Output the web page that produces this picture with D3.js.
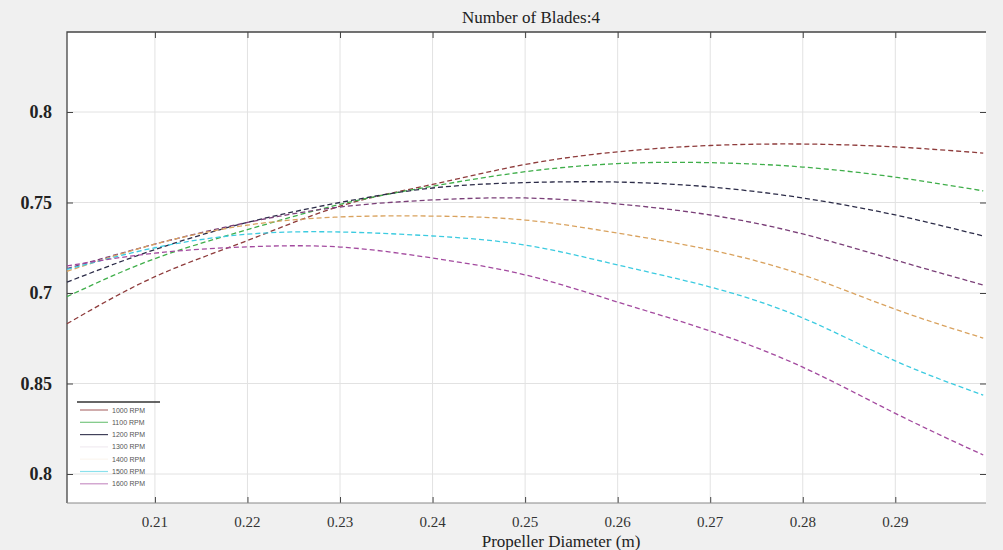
<!DOCTYPE html>
<html>
<head>
<meta charset="utf-8">
<script src="https://cdn.jsdelivr.net/npm/d3@7"></script>
<style>
  html, body { margin: 0; padding: 0; background: #f0f0f0; }
  svg { display: block; }
  .grid line { stroke: #e2e2e2; stroke-width: 1; }
  .ylab { font-family: "Liberation Serif", "DejaVu Serif", serif; font-weight: bold; font-size: 18px; fill: #222; }
  .xlab { font-family: "Liberation Serif", "DejaVu Serif", serif; font-size: 15px; fill: #333; }
  .legend text { font-family: "Liberation Sans", Arial, sans-serif; font-size: 7px; fill: #555; }
</style>
</head>
<body>
<svg id="chart" width="1003" height="550"></svg>
<script>
"use strict";

// propeller diameter (m) sample positions
const diameters = [0.2005, 0.21, 0.22, 0.23, 0.24, 0.25, 0.26, 0.27, 0.28, 0.29, 0.2995];

const rpm1000 = [0.683, 0.709, 0.729, 0.748, 0.760, 0.771, 0.778, 0.7815, 0.7823, 0.7807, 0.7773];
const rpm1100 = [0.698, 0.719, 0.735, 0.749, 0.759, 0.767, 0.7715, 0.772, 0.7696, 0.764, 0.7564];
const rpm1200 = [0.706, 0.724, 0.739, 0.750, 0.758, 0.761, 0.7613, 0.7586, 0.7525, 0.7431, 0.7315];
const rpm1300 = [0.7135, 0.727, 0.739, 0.7475, 0.7514, 0.7525, 0.7492, 0.7431, 0.7326, 0.7182, 0.7044];
const rpm1400 = [0.712, 0.727, 0.7375, 0.742, 0.7425, 0.7403, 0.7331, 0.7238, 0.710, 0.691, 0.6751];
const rpm1500 = [0.713, 0.725, 0.7325, 0.7337, 0.7315, 0.7265, 0.7155, 0.7033, 0.6862, 0.6625, 0.6436];
const rpm1600 = [0.715, 0.722, 0.7255, 0.7254, 0.7193, 0.710, 0.695, 0.679, 0.659, 0.6335, 0.6105];

const seriesNames = ["1000 RPM", "1100 RPM", "1200 RPM", "1300 RPM", "1400 RPM", "1500 RPM", "1600 RPM"];
const seriesValues = [rpm1000, rpm1100, rpm1200, rpm1300, rpm1400, rpm1500, rpm1600];
const seriesColors = ["#8e3b3b", "#3fae4a", "#2c2c48", "#7a3f78", "#d9a25e", "#3ccbe0", "#a34a9f"];
const legendOpacity = [0.7, 0.7, 0.9, 0.1, 0.1, 0.6, 0.6];

const xTicks = [0.21, 0.22, 0.23, 0.24, 0.25, 0.26, 0.27, 0.28, 0.29];
const yTicks = [0.8, 0.75, 0.7, 0.65, 0.6];
const yTickLabels = ["0.8", "0.75", "0.7", "0.85", "0.8"];

const title = "Number of Blades:4";
const xTitle = "Propeller Diameter (m)";

const svg = d3.select("#chart");
const plot = { left: 67, right: 986, top: 32, bottom: 503 };

const x = d3.scaleLinear().domain([0.2005, 0.2998]).range([plot.left, plot.right]);
const y = d3.scaleLinear().domain([0.6, 0.8]).range([474, 112]);

// plot background
svg.append("rect")
	.attr("x", plot.left).attr("y", plot.top)
	.attr("width", plot.right - plot.left).attr("height", plot.bottom - plot.top)
	.attr("fill", "#ffffff");

// grid
const grid = svg.append("g").attr("class", "grid");
grid.selectAll("line.gx").data(xTicks).enter().append("line")
	.attr("x1", (d) => x(d)).attr("x2", (d) => x(d))
	.attr("y1", plot.top).attr("y2", plot.bottom);
grid.selectAll("line.gy").data(yTicks).enter().append("line")
	.attr("x1", plot.left).attr("x2", plot.right)
	.attr("y1", (d) => y(d)).attr("y2", (d) => y(d));

// axes (ticks inside, labels drawn separately)
const xAxisB = d3.axisBottom(x).tickValues(xTicks).tickSize(-6).tickFormat("");
const xAxisT = d3.axisTop(x).tickValues(xTicks).tickSize(-6).tickFormat("");
const yAxisL = d3.axisLeft(y).tickValues(yTicks).tickSize(-6).tickFormat("");
const yAxisR = d3.axisRight(y).tickValues(yTicks).tickSize(-6).tickFormat("");

const styleAxis = (g) => {
	g.select(".domain").remove();
	g.selectAll(".tick line").attr("stroke", "#444");
};
svg.append("g").attr("transform", `translate(0,${plot.bottom})`).call(xAxisB).call(styleAxis);
svg.append("g").attr("transform", `translate(0,${plot.top})`).call(xAxisT).call(styleAxis);
svg.append("g").attr("transform", `translate(${plot.left},0)`).call(yAxisL).call(styleAxis);
svg.append("g").attr("transform", `translate(${plot.right},0)`).call(yAxisR).call(styleAxis);

// frame
svg.append("path")
	.attr("d", `M${plot.left},${plot.bottom}V${plot.top}H${plot.right}`)
	.attr("fill", "none").attr("stroke", "#444").attr("stroke-width", 1.3);
svg.append("line")
	.attr("x1", plot.left).attr("x2", plot.right)
	.attr("y1", plot.bottom).attr("y2", plot.bottom)
	.attr("stroke", "#888").attr("stroke-width", 1);

// tick labels
svg.selectAll("text.ylab").data(yTicks).enter().append("text")
	.attr("class", "ylab")
	.attr("x", 52).attr("y", (d) => y(d) + 6)
	.attr("text-anchor", "end")
	.text((d, i) => yTickLabels[i]);
svg.selectAll("text.xlab").data(xTicks).enter().append("text")
	.attr("class", "xlab")
	.attr("x", (d) => x(d)).attr("y", 527)
	.attr("text-anchor", "middle")
	.text((d) => d3.format(".2f")(d));

// titles
svg.append("text")
	.attr("x", 531).attr("y", 23)
	.attr("text-anchor", "middle")
	.style("font-family", '"Liberation Serif", serif').style("font-size", "17px").style("fill", "#222")
	.text(title);
svg.append("text")
	.attr("x", 561).attr("y", 547)
	.attr("text-anchor", "middle")
	.style("font-family", '"Liberation Serif", serif').style("font-size", "17px").style("fill", "#222")
	.text(xTitle);

// curves
const line = d3.line()
	.x((d, i) => x(diameters[i]))
	.y((d) => y(d))
	.curve(d3.curveNatural);

svg.append("g").attr("class", "curves")
	.selectAll("path").data(seriesValues).enter().append("path")
	.attr("d", (d) => line(d))
	.attr("fill", "none")
	.attr("stroke", (d, i) => seriesColors[i])
	.attr("stroke-width", 1.3)
	.attr("stroke-dasharray", "5,3");

// legend
const legend = svg.append("g").attr("class", "legend");
legend.append("line")
	.attr("x1", 77).attr("x2", 160).attr("y1", 402).attr("y2", 402)
	.attr("stroke", "#333").attr("stroke-width", 1.5);
const items = legend.selectAll("g.item").data(seriesNames).enter().append("g")
	.attr("transform", (d, i) => `translate(0,${410 + i * 12.3})`);
items.append("line")
	.attr("x1", 80).attr("x2", 108).attr("y1", 0).attr("y2", 0)
	.attr("stroke", (d, i) => seriesColors[i])
	.attr("stroke-opacity", (d, i) => legendOpacity[i])
	.attr("stroke-width", 1.2);
items.append("text")
	.attr("x", 112).attr("y", 2.5)
	.text((d) => d);
</script>
</body>
</html>
